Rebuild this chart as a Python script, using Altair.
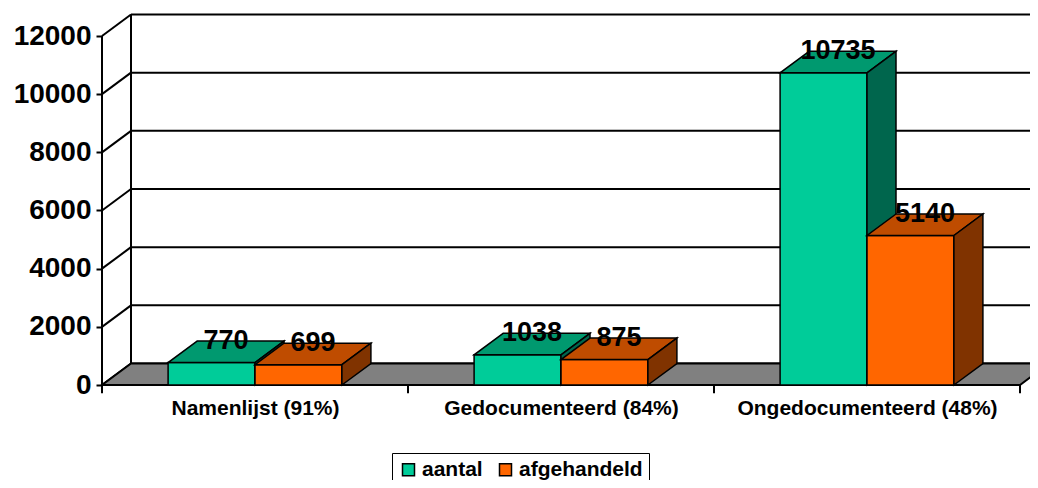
import json
import altair as alt
import pandas as pd

# ---- data ----
categories = ["Namenlijst (91%)", "Gedocumenteerd (84%)", "Ongedocumenteerd (48%)"]
aantal = [770, 1038, 10735]
afgehandeld = [699, 875, 5140]
series_names = ["aantal", "afgehandeld"]
y_ticks = [0, 2000, 4000, 6000, 8000, 10000, 12000]

# ---- style ----
FRONT = ["#00CC99", "#FF6600"]
TOP = ["#00996F", "#BF4C00"]
SIDE = ["#00664D", "#803300"]
FONT = "Liberation Sans"

PX_PER_CAT = 306
W, H = 928, 375
PX_PER_12000 = 349
DX = 29 / PX_PER_CAT                 # depth in x units
DY = 21.5 * 12000 / PX_PER_12000     # depth in y units
XMAX = W / PX_PER_CAT
YMAX = 12000 * H / PX_PER_12000
GAP, BW = 0.216, 0.284
NCAT = len(categories)

xs = alt.Scale(domain=[0, XMAX], nice=False, zero=False)
ys = alt.Scale(domain=[0, YMAX], nice=False, zero=False)

# ---- front axis (carries the axes) ----
label_expr = json.dumps(categories) + "[floor(datum.value)]"
front_axis_df = pd.DataFrame({"fx": [0.0], "fy0": [0], "fy1": [max(y_ticks)]})
front_axis = alt.Chart(front_axis_df).mark_rule(color="black", strokeWidth=2).encode(
    x=alt.X("fx:Q", scale=xs, axis=alt.Axis(
        values=[i + 0.5 for i in range(NCAT)], title=None, domain=False, ticks=False,
        grid=False, labelExpr=label_expr, labelFont=FONT, labelFontSize=21,
        labelFontWeight="bold", labelColor="black", labelPadding=12,
        labelLimit=400, labelOverlap=False, labelFlush=False)),
    y=alt.Y("fy0:Q", scale=ys, axis=alt.Axis(
        values=y_ticks, title=None, domain=False, grid=False, tickSize=6,
        tickWidth=2, tickColor="black", labelFont=FONT, labelFontSize=28,
        labelFontWeight="bold", labelColor="black", labelPadding=5, format="d")),
    y2="fy1:Q")

# ---- back wall, gridlines ----
grid = pd.DataFrame({"v": y_ticks})
grid["vb"] = grid["v"] + DY
grid["x0"] = 0.0
grid["xb"] = DX
grid["xe"] = NCAT + DX

gridlines = alt.Chart(grid).mark_rule(color="black", strokeWidth=2).encode(
    x=alt.X("xb:Q", scale=xs), x2="xe:Q",
    y=alt.Y("vb:Q", scale=ys))
diagonals = alt.Chart(grid).mark_rule(color="black", strokeWidth=2).encode(
    x=alt.X("x0:Q", scale=xs), x2="xb:Q",
    y=alt.Y("v:Q", scale=ys), y2="vb:Q")

wall_edge_df = pd.DataFrame({"x": [DX], "y0": [DY], "y1": [max(y_ticks) + DY]})
wall_edge = alt.Chart(wall_edge_df).mark_rule(color="black", strokeWidth=2).encode(
    x=alt.X("x:Q", scale=xs),
    y=alt.Y("y0:Q", scale=ys), y2="y1:Q")

# ---- floor ----
floor_df = pd.DataFrame({"y": [0, DY], "xa": [0, DX], "xb": [NCAT, NCAT + DX]})
floor = alt.Chart(floor_df).mark_area(
    orient="horizontal", fill="#808080", stroke="black", strokeWidth=2).encode(
    y=alt.Y("y:Q", scale=ys),
    x=alt.X("xa:Q", scale=xs), x2="xb:Q")

cat_ticks_df = pd.DataFrame({"b": list(range(NCAT + 1))})
cat_ticks_df["y0"] = 0
cat_ticks_df["y1"] = -280
cat_ticks = alt.Chart(cat_ticks_df).mark_rule(color="black", strokeWidth=2).encode(
    x=alt.X("b:Q", scale=xs),
    y=alt.Y("y0:Q", scale=ys), y2="y1:Q")

# ---- bars ----
color_enc = alt.Color(
    "series:N",
    scale=alt.Scale(domain=series_names, range=FRONT),
    legend=alt.Legend(
        title=None, orient="none", legendX=290, legendY=443, direction="horizontal",
        strokeColor="black", fillColor="white", padding=6, symbolType="square",
        symbolSize=144, symbolStrokeColor="black", symbolStrokeWidth=1.5,
        symbolOpacity=1, labelFont=FONT, labelFontSize=21, labelFontWeight="bold",
        labelColor="black", columnPadding=12, labelOffset=3))

layers = [front_axis, gridlines, diagonals, wall_edge, floor, cat_ticks]
label_rows = []
for j, (s, vals) in enumerate(zip(series_names, [aantal, afgehandeld])):
    fr, tp, sd = [], [], []
    for i, (c, v) in enumerate(zip(categories, vals)):
        x0 = i + GAP + j * BW
        x1 = x0 + BW
        fr.append(dict(cat=c, series=s, x0=x0, x1=x1, y0=0, value=v))
        tp.append(dict(cat=c, y=v, xa=x0, xb=x1))
        tp.append(dict(cat=c, y=v + DY, xa=x0 + DX, xb=x1 + DX))
        sd.append(dict(cat=c, x=x1, ya=0, yb=v))
        sd.append(dict(cat=c, x=x1 + DX, ya=DY, yb=v + DY))
        label_rows.append(dict(cat=c, value=v, x=(x0 + x1) / 2 + DX / 2, y=v + DY))
    front = alt.Chart(pd.DataFrame(fr)).mark_rect(stroke="black", strokeWidth=1.5).encode(
        x=alt.X("x0:Q", scale=xs), x2="x1:Q",
        y=alt.Y("y0:Q", scale=ys), y2="value:Q",
        color=color_enc)
    top = alt.Chart(pd.DataFrame(tp)).mark_area(
        orient="horizontal", fill=TOP[j], stroke="black", strokeWidth=1.5).encode(
        y=alt.Y("y:Q", scale=ys),
        x=alt.X("xa:Q", scale=xs), x2="xb:Q", detail="cat:N")
    side = alt.Chart(pd.DataFrame(sd)).mark_area(
        orient="vertical", fill=SIDE[j], stroke="black", strokeWidth=1.5).encode(
        x=alt.X("x:Q", scale=xs),
        y=alt.Y("ya:Q", scale=ys), y2="yb:Q", detail="cat:N")
    layers += [front, top, side]

labels = alt.Chart(pd.DataFrame(label_rows)).mark_text(
    font=FONT, fontSize=27, fontWeight="bold", color="black",
    align="center", baseline="middle").encode(
    x=alt.X("x:Q", scale=xs),
    y=alt.Y("y:Q", scale=ys),
    text=alt.Text("value:Q", format="d"))
layers.append(labels)

chart = alt.layer(*layers).properties(
    width=W, height=H,
    autosize=alt.AutoSizeParams(type="none"),
    padding={"left": 94, "top": 2, "right": 0, "bottom": 95},
).configure_view(stroke=None)

chart.save("out.html", embed_options={"renderer": "svg", "actions": False})
